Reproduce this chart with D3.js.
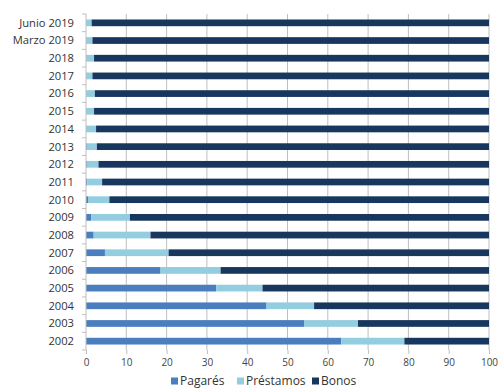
<!DOCTYPE html>
<html><head><meta charset="utf-8">
<script src="https://cdn.jsdelivr.net/npm/d3@7"></script>
<style>body{margin:0;background:#fff;}text{font-family:"Open Sans","Noto Sans",sans-serif;}</style>
</head><body><svg id="c" width="498" height="390"></svg>
<script>
const categories = ["Junio 2019","Marzo 2019","2018","2017","2016","2015","2014","2013","2012","2011","2010","2009","2008","2007","2006","2005","2004","2003","2002"];
const pagares   = [0,0,0,0,0,0,0,0.2,0.2,0.3,0.5,1.3,1.9,4.7,18.5,32.3,44.8,54.1,63.3];
const prestamos = [1.4,1.6,2.0,1.6,2.2,2.0,2.5,2.5,2.9,3.7,5.3,9.6,14.1,15.8,14.9,11.5,11.8,13.4,15.7];
const bonos = pagares.map((p,i)=>100-p-prestamos[i]);
const seriesNames = ["Pagarés","Préstamos","Bonos"];
const colors = ["#4a7ebf","#93cde0","#17375e"];
const xTicks = [0,10,20,30,40,50,60,70,80,90,100];

const svg = d3.select("#c");
const m = {l:86,r:9,t:14,b:40};
const W=498,H=390;
const x = d3.scaleLinear().domain([0,100]).range([m.l, W-m.r]);
const y = d3.scaleBand().domain(categories).range([m.t, 350]).paddingInner(0.62).paddingOuter(0.31);

// gridlines
svg.append("g").selectAll("line").data(xTicks.slice(1)).join("line")
  .attr("x1",d=>x(d)).attr("x2",d=>x(d)).attr("y1",m.t).attr("y2",350)
  .attr("stroke","#bfbfbf").attr("stroke-width",1);

const data = categories.map((c,i)=>({cat:c,"Pagarés":pagares[i],"Préstamos":prestamos[i],"Bonos":bonos[i]}));
const stack = d3.stack().keys(seriesNames)(data);
svg.append("g").selectAll("g").data(stack).join("g").attr("fill",(d,i)=>colors[i])
  .selectAll("rect").data(d=>d).join("rect")
  .attr("x",d=>x(d[0])).attr("width",d=>Math.max(0,x(d[1])-x(d[0])))
  .attr("y",d=>y(d.data.cat)).attr("height",y.bandwidth());

// x axis
const xa = svg.append("g").attr("transform","translate(0,350)")
  .call(d3.axisBottom(x).tickValues(xTicks).tickSize(4).tickPadding(5));
xa.select(".domain").remove();
xa.selectAll("line").attr("stroke","#bfbfbf");
xa.selectAll("text").attr("font-size",10).attr("fill","#444");

// y axis
svg.append("line").attr("x1",m.l).attr("x2",m.l).attr("y1",m.t).attr("y2",350).attr("stroke","#bfbfbf");
const step = y.step();
const bounds = categories.map((c,i)=>m.t + i*step).concat([350]);
svg.append("g").selectAll("line").data(bounds).join("line")
  .attr("x1",m.l-4).attr("x2",m.l).attr("y1",d=>d).attr("y2",d=>d).attr("stroke","#bfbfbf");
svg.append("g").selectAll("text").data(categories).join("text")
  .attr("x",m.l-12).attr("y",d=>y(d)+y.bandwidth()/2).attr("dy","0.35em")
  .attr("text-anchor","end").attr("font-size",11.2).attr("fill","#333").text(d=>d);

// legend
const lg = svg.append("g");
const legendX = [171,237,312];
seriesNames.forEach((n,i)=>{
  lg.append("rect").attr("x",legendX[i]).attr("y",377.5).attr("width",7).attr("height",7).attr("fill",colors[i]);
  lg.append("text").attr("x",legendX[i]+9).attr("y",381).attr("dy","0.35em").attr("font-size",12).attr("fill","#333").text(n);
});
</script></body></html>
